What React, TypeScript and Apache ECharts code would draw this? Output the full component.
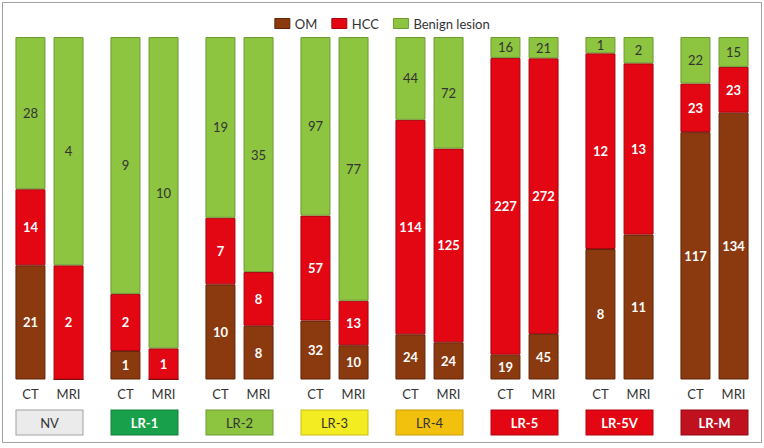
import React, { useEffect, useRef } from "react";
import * as echarts from "echarts";

const categories = ["NV", "LR-1", "LR-2", "LR-3", "LR-4", "LR-5", "LR-5V", "LR-M"];
const modalities = ["CT", "MRI"];
const seriesNames = ["OM", "HCC", "Benign lesion"];

const ctOM = [21, 1, 10, 32, 24, 19, 8, 117];
const ctHCC = [14, 2, 7, 57, 114, 227, 12, 23];
const ctBenign = [28, 9, 19, 97, 44, 16, 1, 22];
const mriOM = [0, 0, 8, 10, 24, 45, 11, 134];
const mriHCC = [2, 1, 8, 13, 125, 272, 13, 23];
const mriBenign = [4, 10, 35, 77, 72, 21, 2, 15];

const FONT = "Lato, 'Open Sans', sans-serif";

const segColors = ["#8B3A10", "#E30613", "#8DC440"];
const segBorders = ["#5E2508", "#A8040E", "#6E9A32"];
const labelColors = ["#FFFFFF", "#FFFFFF", "#333333"];
const labelWeights = ["bold", "bold", "normal"];

const boxStyles = [
  { bg: "#EBEBEB", border: "#A0A0A0", color: "#333333", weight: "normal" },
  { bg: "#19A04A", border: "#12803A", color: "#FFFFFF", weight: "bold" },
  { bg: "#8DC440", border: "#6E9A32", color: "#333333", weight: "normal" },
  { bg: "#F4EC22", border: "#C8BF15", color: "#333333", weight: "normal" },
  { bg: "#F2C10E", border: "#C89C08", color: "#333333", weight: "normal" },
  { bg: "#E30613", border: "#B0040F", color: "#FFFFFF", weight: "bold" },
  { bg: "#E30613", border: "#B0040F", color: "#FFFFFF", weight: "bold" },
  { bg: "#C0111F", border: "#900A15", color: "#FFFFFF", weight: "bold" },
];

export default function App() {
  const ref = useRef<HTMLDivElement>(null);
  useEffect(() => {
    if (!ref.current) return;
    const chart = echarts.init(ref.current, null, { renderer: "svg" });

    const stacks = [
      { key: "ct", arrays: [ctOM, ctHCC, ctBenign] },
      { key: "mri", arrays: [mriOM, mriHCC, mriBenign] },
    ];

    const series: any[] = [];
    stacks.forEach((st) => {
      const totals = categories.map((_, i) => st.arrays.reduce((s, a) => s + a[i], 0));
      st.arrays.forEach((arr, k) => {
        series.push({
          name: seriesNames[k],
          type: "bar",
          stack: st.key,
          xAxisIndex: 0,
          barWidth: 30,
          barGap: "27%",
          itemStyle: { color: segColors[k], borderColor: segBorders[k], borderWidth: 1 },
          label: {
            show: true,
            position: "inside",
            fontFamily: FONT,
            fontSize: 13,
            color: labelColors[k],
            fontWeight: labelWeights[k],
            formatter: (p: any) => (p.data.count > 0 ? String(p.data.count) : ""),
          },
          data: arr.map((v, i) => ({ value: (v / totals[i]) * 100, count: v })),
        });
      });
    });

    const boxRich: any = {};
    boxStyles.forEach((b, i) => {
      boxRich["b" + i] = {
        width: 66,
        height: 24,
        lineHeight: 24,
        align: "center",
        backgroundColor: b.bg,
        borderColor: b.border,
        borderWidth: 1,
        color: b.color,
        fontWeight: b.weight,
        fontFamily: FONT,
        fontSize: 13,
      };
    });

    chart.setOption({
      animation: false,
      graphic: [
        {
          type: "rect",
          shape: { x: 2.5, y: 2.5, width: 759, height: 440 },
          style: { fill: "none", stroke: "#A0A0A0", lineWidth: 1 },
          z: -1,
        },
      ],
      legend: {
        top: 12,
        left: "center",
        itemWidth: 15,
        itemHeight: 10,
        itemGap: 14,
        icon: "rect",
        textStyle: { fontFamily: FONT, fontSize: 13, color: "#333333" },
        data: seriesNames.map((n, k) => ({
          name: n,
          itemStyle: { color: segColors[k], borderColor: segBorders[k], borderWidth: 1 },
        })),
      },
      grid: { left: 2, right: 2, top: 37, bottom: 68.5 },
      xAxis: [
        {
          type: "category",
          data: categories,
          axisLine: { show: false },
          axisTick: { show: false },
          axisLabel: {
            interval: 0,
            margin: 8,
            formatter: () => `{c|${modalities[0]}}{m|${modalities[1]}}`,
            rich: {
              c: { width: 38, align: "center", fontFamily: FONT, fontSize: 13, color: "#333333" },
              m: { width: 38, align: "center", fontFamily: FONT, fontSize: 13, color: "#333333" },
            },
          },
        },
        {
          type: "category",
          data: categories,
          position: "bottom",
          axisLine: { show: false },
          axisTick: { show: false },
          axisLabel: {
            interval: 0,
            margin: 31,
            formatter: (v: string, i: number) => `{b${i}|${v}}`,
            rich: boxRich,
          },
        },
      ],
      yAxis: { type: "value", min: 0, max: 100, show: false },
      series,
    });

    return () => chart.dispose();
  }, []);
  return <div ref={ref} style={{ width: 764, height: 448, position: "absolute", left: 0, top: 0 }} />;
}
